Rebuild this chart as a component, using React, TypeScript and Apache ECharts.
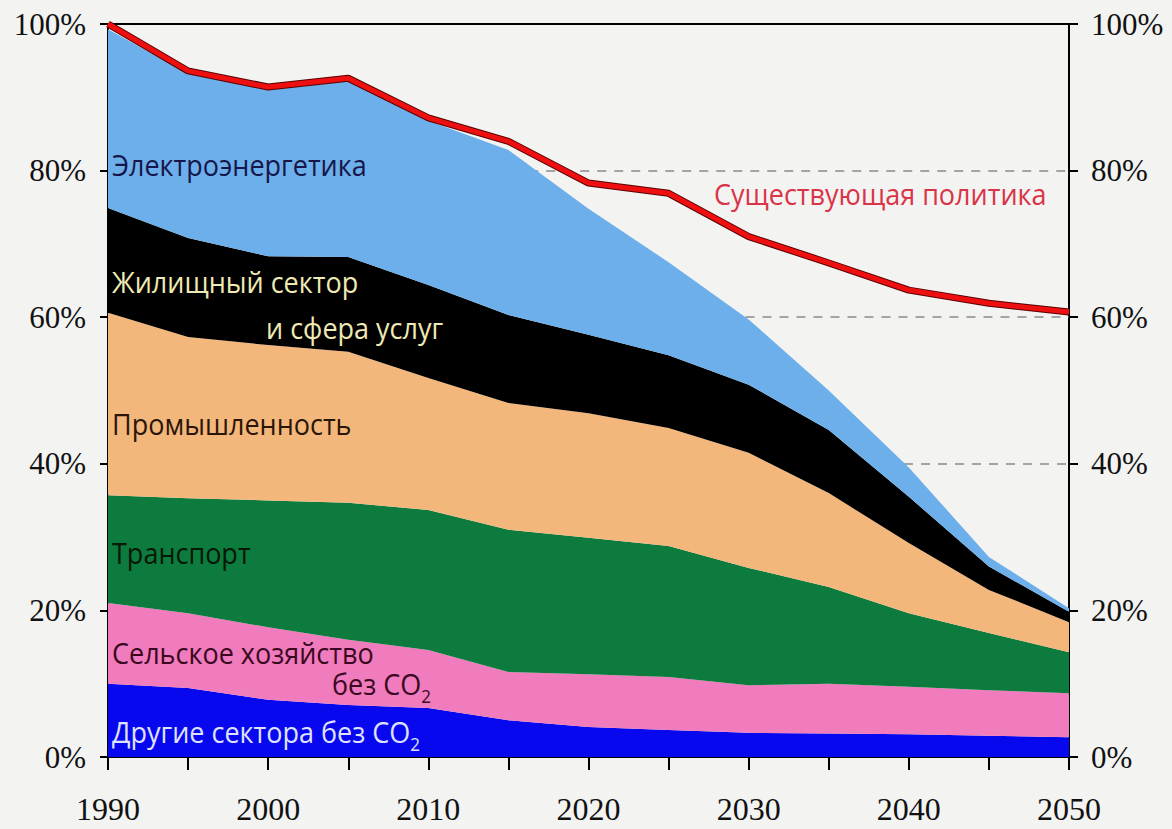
import React, { useEffect, useRef } from "react";
import * as echarts from "echarts";

// ---- data (shares of 1990 emissions, %) ----
const years = [1990, 1995, 2000, 2005, 2010, 2015, 2020, 2025, 2030, 2035, 2040, 2045, 2050];
const otherNonCO2 = [10.0, 9.4, 7.8, 7.1, 6.7, 5.0, 4.1, 3.7, 3.3, 3.2, 3.1, 2.9, 2.7];
const agricultureNonCO2 = [11.0, 10.2, 9.9, 8.9, 7.9, 6.6, 7.2, 7.2, 6.5, 6.8, 6.5, 6.2, 6.0];
const transport = [14.7, 15.7, 17.3, 18.7, 19.1, 19.4, 18.6, 17.9, 16.0, 13.2, 10.0, 7.8, 5.6];
const industry = [24.9, 22.0, 21.2, 20.6, 18.0, 17.3, 17.0, 16.1, 15.7, 12.8, 9.6, 5.9, 4.1];
const residential = [14.3, 13.5, 12.1, 12.9, 12.7, 12.0, 10.7, 9.9, 9.3, 8.6, 6.3, 3.2, 1.4];
const power = [24.4, 22.4, 22.7, 24.0, 22.4, 22.5, 17.2, 12.7, 8.9, 5.4, 4.0, 1.3, 0.5];
const currentPolicy = [100, 93.6, 91.4, 92.6, 87.2, 84.0, 78.3, 76.9, 71.0, 67.4, 63.7, 61.9, 60.7];

const dashLevels = [80, 60, 40];
const dashStarts = [2016.3, 2029.8, 2039.7];

const sectorNames = [
  "Другие сектора без CO2",
  "Сельское хозяйство без CO2",
  "Транспорт",
  "Промышленность",
  "Жилищный сектор и сфера услуг",
  "Электроэнергетика",
];
const sectorValues = [otherNonCO2, agricultureNonCO2, transport, industry, residential, power];
const sectorColors = ["#0808ee", "#f07bbd", "#0d7b3d", "#f3b77b", "#000000", "#6cafea"];

const BG = "#f3f3f1";
const LABEL_FONT = "'Open Sans', 'Noto Sans', sans-serif";
const TICK_FONT = "'Liberation Serif', 'DejaVu Serif', serif";

export default function App() {
  const ref = useRef<HTMLDivElement>(null);

  useEffect(() => {
    if (!ref.current) return;
    const chart = echarts.init(ref.current, undefined, { renderer: "svg" });

    const areaSeries = sectorNames.map((name, i) => ({
      name,
      type: "line",
      stack: "total",
      xAxisIndex: 0,
      yAxisIndex: 0,
      data: sectorValues[i],
      symbol: "none",
      showSymbol: false,
      lineStyle: { width: 0, color: sectorColors[i] },
      itemStyle: { color: sectorColors[i] },
      areaStyle: { color: sectorColors[i], opacity: 1 },
      silent: true,
      z: 2,
    }));

    const policyPairs = years.map((y, i) => [y, currentPolicy[i]]);

    const textEl = (text: string, x: number, y: number, color: string, extra: any = {}) => ({
      type: "text",
      x,
      y,
      scaleY: 1.1,
      z: 100,
      silent: true,
      style: {
        text,
        fill: color,
        fontSize: 27,
        fontFamily: LABEL_FONT,
        verticalAlign: "middle",
        align: "left",
        ...extra,
      },
    });

    const subRich = (color: string) => ({
      rich: {
        n: { fontSize: 27, fontFamily: LABEL_FONT, fill: color, color, lineHeight: 32 },
        s: { fontSize: 17, fontFamily: LABEL_FONT, fill: color, color, lineHeight: 40, verticalAlign: "bottom" },
      },
    });

    const option: any = {
      animation: false,
      backgroundColor: BG,
      grid: { left: 108, right: 103, top: 24, bottom: 72, containLabel: false },
      xAxis: [
        {
          type: "category",
          data: years.map(String),
          boundaryGap: false,
          axisLine: { show: true, lineStyle: { color: "#000", width: 2 } },
          axisTick: { show: true, interval: 0, length: 13, lineStyle: { color: "#000", width: 2 } },
          axisLabel: {
            interval: (idx: number) => idx % 2 === 0,
            margin: 36,
            fontFamily: TICK_FONT,
            fontSize: 32,
            color: "#111",
          },
          splitLine: { show: false },
        },
        {
          type: "value",
          position: "top",
          min: 1990,
          max: 2050,
          axisLine: { show: true, onZero: false, lineStyle: { color: "#000", width: 2 } },
          axisTick: { show: false },
          axisLabel: { show: false },
          splitLine: { show: false },
        },
      ],
      yAxis: [
        {
          type: "value",
          position: "left",
          min: 0,
          max: 100,
          interval: 20,
          axisLine: { show: true, lineStyle: { color: "#000", width: 2 } },
          axisTick: { show: true, length: 8, lineStyle: { color: "#000", width: 2 } },
          axisLabel: { margin: 22, fontFamily: TICK_FONT, fontSize: 31, color: "#111", formatter: "{value}%" },
          splitLine: { show: false },
        },
        {
          type: "value",
          position: "right",
          min: 0,
          max: 100,
          interval: 20,
          axisLine: { show: true, lineStyle: { color: "#000", width: 2 } },
          axisTick: { show: true, length: 9, lineStyle: { color: "#000", width: 2 } },
          axisLabel: { margin: 22, fontFamily: TICK_FONT, fontSize: 31, color: "#111", formatter: "{value}%" },
          splitLine: { show: false },
        },
      ],
      series: [
        ...areaSeries,
        {
          name: "outline",
          type: "line",
          xAxisIndex: 1,
          yAxisIndex: 0,
          data: policyPairs,
          symbol: "none",
          showSymbol: false,
          silent: true,
          lineStyle: { color: "#5a0000", width: 7 },
          z: 5,
          markLine: {
            silent: true,
            symbol: "none",
            label: { show: false },
            lineStyle: { color: "#8a8a8a", type: [9, 8], width: 1.5 },
            data: dashLevels.map((lvl, i) => [
              { coord: [dashStarts[i], lvl] },
              { coord: [2050, lvl] },
            ]),
            z: 1,
          },
        },
        {
          name: "Существующая политика",
          type: "line",
          xAxisIndex: 1,
          yAxisIndex: 0,
          data: policyPairs,
          symbol: "none",
          showSymbol: false,
          silent: true,
          lineStyle: { color: "#ee1010", width: 5 },
          z: 6,
        },
      ],
      graphic: [
        textEl("Электроэнергетика", 112, 164, "#16164a"),
        textEl("Жилищный сектор", 112, 281, "#efe9b4"),
        textEl("и сфера услуг", 266, 327, "#efe9b4"),
        textEl("Промышленность", 112, 423, "#2a1608"),
        textEl("Транспорт", 112, 552, "#071807"),
        textEl("Сельское хозяйство", 112, 652, "#3a0820"),
        textEl("{n|без CO}{s|2}", 332, 683, "#3a0820", subRich("#3a0820")),
        textEl("{n|Другие сектора без CO}{s|2}", 112, 731, "#dfe2ff", subRich("#dfe2ff")),
        textEl("Существующая политика", 714, 193, "#d93448"),
      ],
    };

    chart.setOption(option);
    return () => chart.dispose();
  }, []);

  return (
    <div
      ref={ref}
      style={{ position: "absolute", left: 0, top: 0, width: 1172, height: 829 }}
    />
  );
}
